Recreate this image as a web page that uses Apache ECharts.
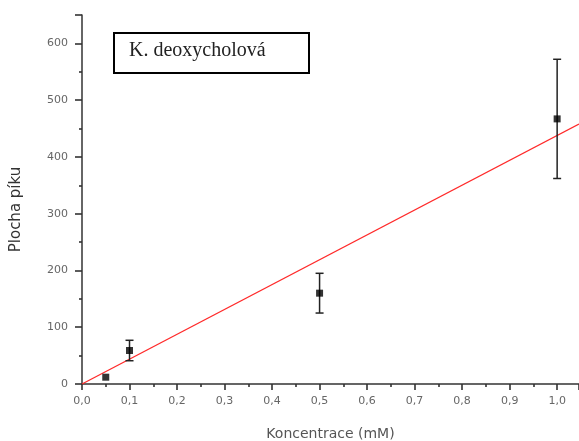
<!DOCTYPE html>
<html><head><meta charset="utf-8">
<script src="https://cdn.jsdelivr.net/npm/echarts@6/dist/echarts.min.js"></script>
<style>html,body{margin:0;padding:0;background:#fff}#c{width:579px;height:441px}</style>
</head><body><div id="c"></div>
<script>
var concentrations = [0.05, 0.1, 0.5, 1.0];
var areas = [12, 59, 160, 467];
var errors = [0, 18, 35, 105];
var fitX = [0, 1.046];
var fitY = [0, 458];
var xTicks = [0,0.1,0.2,0.3,0.4,0.5,0.6,0.7,0.8,0.9,1.0];
var yTicks = [0,100,200,300,400,500,600];

var pts = concentrations.map(function(x,i){return [x, areas[i]];});
var errData = concentrations.map(function(x,i){return [x, areas[i]-errors[i], areas[i]+errors[i]];});
var fitData = fitX.map(function(x,i){return [x, fitY[i]];});

var chart = echarts.init(document.getElementById('c'));
var axisCol = '#333';
var tickFont = 'DejaVu Sans';
chart.setOption({
  animation:false,
  grid:{left:82, right:0, top:15, bottom:57, containLabel:false, outerBoundsMode:'none'},
  xAxis:{type:'value', min:0, max:1.046, interval:0.1,
    axisLine:{onZero:false, lineStyle:{color:axisCol, width:1.5}},
    axisTick:{show:true, length:6, lineStyle:{color:axisCol, width:1.6}},
    minorTick:{show:true, splitNumber:2, length:3, lineStyle:{color:axisCol, width:1.6}},
    splitLine:{show:false},
    axisLabel:{color:'#666', fontFamily:tickFont, fontSize:11, margin:12,
      formatter:function(v){
        var r = Math.round(v*1000);
        if (r % 100 !== 0 || r > 1000) return '';
        return (r/1000).toFixed(1).replace('.', ',');
      }},
    name:'Koncentrace (mM)', nameLocation:'middle', nameGap:43,
    nameTextStyle:{color:'#555', fontFamily:tickFont, fontSize:14}
  },
  yAxis:{type:'value', min:0, max:650, interval:100,
    axisLine:{show:true, lineStyle:{color:axisCol, width:1.5}},
    axisTick:{show:true, length:7, lineStyle:{color:axisCol, width:1.6}},
    minorTick:{show:true, splitNumber:2, length:3, lineStyle:{color:axisCol, width:1.6}},
    splitLine:{show:false},
    axisLabel:{color:'#666', fontFamily:tickFont, fontSize:11, margin:14,
      formatter:function(v){ return (v % 100 === 0 && v <= 600) ? String(v) : ''; }},
    name:'Plocha píku', nameLocation:'middle', nameGap:58,
    nameTextStyle:{color:'#333', fontFamily:tickFont, fontSize:15, padding:[0,20,0,0]}
  },
  series:[
    {type:'line', data:fitData, showSymbol:false, symbol:'none',
      lineStyle:{color:'#ff2a2a', width:1.3}, z:2},
    {type:'custom', data:errData, z:3,
      renderItem:function(params, api){
        var x = api.value(0), lo = api.value(1), hi = api.value(2);
        if (hi - lo <= 0) return null;
        var pLo = api.coord([x, lo]), pHi = api.coord([x, hi]);
        var w = 4, st = {stroke:'#222', lineWidth:1.5};
        return {type:'group', children:[
          {type:'line', shape:{x1:pLo[0], y1:pLo[1], x2:pHi[0], y2:pHi[1]}, style:st},
          {type:'line', shape:{x1:pLo[0]-w, y1:pLo[1], x2:pLo[0]+w, y2:pLo[1]}, style:st},
          {type:'line', shape:{x1:pHi[0]-w, y1:pHi[1], x2:pHi[0]+w, y2:pHi[1]}, style:st}
        ]};
      }},
    {type:'scatter', data:pts, symbol:'rect', symbolSize:7,
      itemStyle:{color:'#000'}, z:4}
  ],
  graphic:[
    {type:'rect', left:113, top:32, shape:{width:195, height:40},
      style:{fill:'#fff', stroke:'#000', lineWidth:2}, z:10},
    {type:'text', left:129, top:41, style:{text:'K. deoxycholová',
      font:'20px "Liberation Serif"', fill:'#222'}, z:11}
  ]
});
</script></body></html>
